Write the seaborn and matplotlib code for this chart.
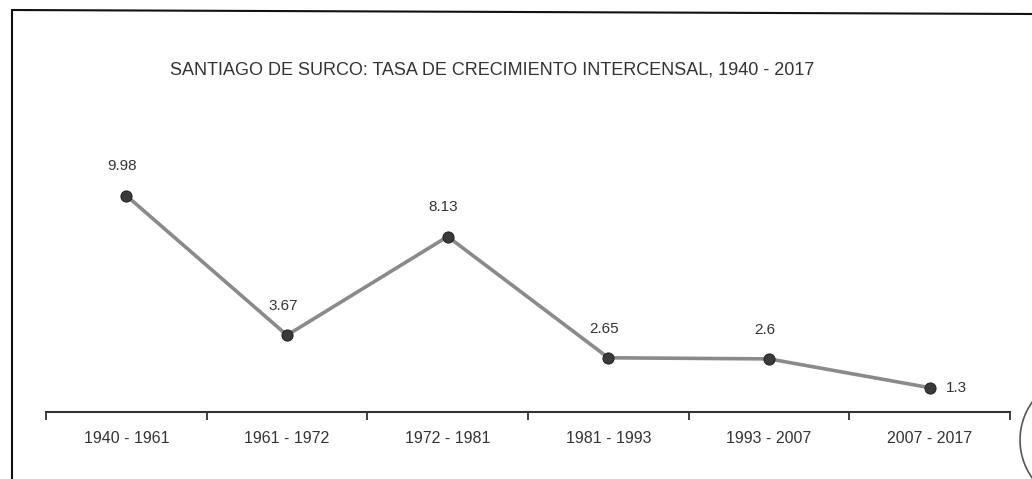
import matplotlib.pyplot as plt
import seaborn as sns
import pandas as pd
from matplotlib.patches import Arc
from matplotlib.lines import Line2D

# Data
periodos = ['1940 - 1961', '1961 - 1972', '1972 - 1981', '1981 - 1993', '1993 - 2007', '2007 - 2017']
tasas = [9.98, 3.67, 8.13, 2.65, 2.6, 1.3]
etiquetas = ['9.98', '3.67', '8.13', '2.65', '2.6', '1.3']

df = pd.DataFrame({'pos': range(len(periodos)), 'tasa': tasas})

sns.set_style('white')
plt.rcParams['font.family'] = ['Liberation Sans', 'DejaVu Sans']

fig = plt.figure(figsize=(10.32, 4.79), dpi=100)
ax = fig.add_axes([46 / 1032, 1 - 412 / 479, 964 / 1032, 312 / 479])

sns.lineplot(data=df, x='pos', y='tasa', ax=ax, color='#8a8a8a', linewidth=2.6,
             marker='o', markersize=8, markerfacecolor='#3a3a3a',
             markeredgecolor='#222222', sort=False)

# data labels
for i, (v, t) in enumerate(zip(tasas, etiquetas)):
    if i == len(tasas) - 1:
        ax.annotate(t, (i, v), xytext=(12, 0), textcoords='offset points',
                    ha='left', va='center', fontsize=11, color='#333333')
    else:
        ax.annotate(t, (i, v), xytext=(-3, 16), textcoords='offset points',
                    ha='center', va='bottom', fontsize=11, color='#333333')

ax.set_xlim(-0.5, 5.5)
ax.set_ylim(0.2, 14.3)
ax.set_xticks(range(len(periodos)))
ax.set_xticklabels(periodos, fontsize=11.5, color='#333333')
ax.set_xticks([x - 0.5 for x in range(len(periodos) + 1)], minor=True)
ax.tick_params(axis='x', which='major', length=0, pad=14)
ax.tick_params(axis='x', which='minor', length=6, width=1.2, color='#222222', direction='out', bottom=True)
ax.set_yticks([])
ax.set_xlabel('')
ax.set_ylabel('')
for s in ['left', 'right', 'top']:
    ax.spines[s].set_visible(False)
ax.spines['bottom'].set_color('#333333')
ax.spines['bottom'].set_linewidth(1.5)

# title
fig.text(492 / 1032, 1 - 70 / 479, 'SANTIAGO DE SURCO: TASA DE CRECIMIENTO INTERCENSAL, 1940 - 2017',
         ha='center', va='center', fontsize=13, color='#333333')

# chart frame (left and top edges visible)
fig.add_artist(Line2D([12 / 1032, 12 / 1032], [0, 1 - 10 / 479], transform=fig.transFigure,
                      color='#111111', linewidth=1.5))
fig.add_artist(Line2D([12 / 1032, 1], [1 - 10 / 479, 1 - 14 / 479], transform=fig.transFigure,
                      color='#111111', linewidth=1.5))

# stamp fragment at the right edge
arc = Arc((1085 / 1032, 1 - 440 / 479), 130 / 1032, 130 / 479, angle=0, theta1=95, theta2=270,
          transform=fig.transFigure, color='#555555', linewidth=1.2)
fig.add_artist(arc)

fig.savefig('out.png', dpi=100)
